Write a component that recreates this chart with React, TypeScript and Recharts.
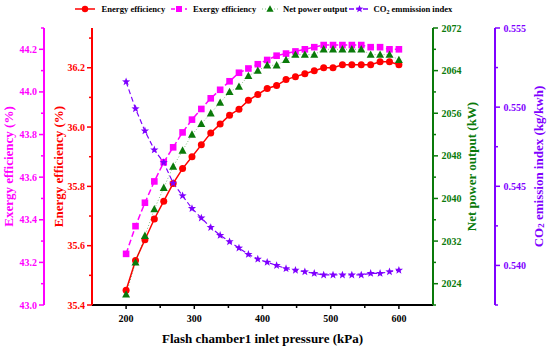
import React from 'react';
import { LineChart, Line, XAxis, YAxis, Legend } from 'recharts';

const FONT = "'Times New Roman', 'Liberation Serif', serif";

const pressure = [200, 213.8, 227.6, 241.4, 255.2, 269.0, 282.8, 296.6, 310.3, 324.1, 337.9, 351.7, 365.5, 379.3, 393.1, 406.9, 420.7, 434.5, 448.3, 462.1, 475.9, 489.7, 503.4, 517.2, 531.0, 544.8, 558.6, 572.4, 586.2, 600];
const energyEff = [35.45, 35.55, 35.62, 35.69, 35.75, 35.81, 35.86, 35.90, 35.94, 35.98, 36.01, 36.04, 36.06, 36.09, 36.11, 36.13, 36.14, 36.16, 36.17, 36.18, 36.19, 36.20, 36.20, 36.21, 36.21, 36.21, 36.21, 36.22, 36.22, 36.21];
const exergyEff = [43.24, 43.37, 43.48, 43.58, 43.67, 43.74, 43.81, 43.87, 43.92, 43.97, 44.01, 44.05, 44.09, 44.11, 44.13, 44.15, 44.17, 44.18, 44.19, 44.20, 44.21, 44.22, 44.22, 44.22, 44.22, 44.22, 44.21, 44.21, 44.20, 44.20];
const netPower = [2022, 2028, 2033, 2038, 2042, 2046, 2049, 2052, 2054, 2056, 2058, 2060, 2061, 2063, 2064, 2065, 2065, 2066, 2067, 2067, 2067, 2068, 2068, 2068, 2068, 2068, 2067, 2067, 2067, 2066];
const co2Index = [0.5516, 0.5499, 0.5485, 0.5473, 0.5465, 0.5452, 0.5444, 0.5436, 0.5430, 0.5424, 0.5419, 0.5415, 0.5411, 0.5407, 0.5404, 0.5402, 0.5400, 0.5398, 0.5397, 0.5396, 0.5395, 0.5394, 0.5394, 0.5394, 0.5394, 0.5394, 0.5395, 0.5395, 0.5396, 0.5397];

const xTicks = [200, 250, 300, 350, 400, 450, 500, 550, 600];
const xMajor = [200, 300, 400, 500, 600];
const energyTicks = [35.4, 35.5, 35.6, 35.7, 35.8, 35.9, 36.0, 36.1, 36.2, 36.3];
const energyMajor = [35.4, 35.6, 35.8, 36.0, 36.2];
const exergyTicks = [43.0, 43.1, 43.2, 43.3, 43.4, 43.5, 43.6, 43.7, 43.8, 43.9, 44.0, 44.1, 44.2, 44.3];
const exergyMajor = [43.0, 43.2, 43.4, 43.6, 43.8, 44.0, 44.2];
const powerTicks = [2020, 2024, 2028, 2032, 2036, 2040, 2044, 2048, 2052, 2056, 2060, 2064, 2068, 2072];
const powerMajor = [2024, 2032, 2040, 2048, 2056, 2064, 2072];
const co2Ticks = [0.5375, 0.54, 0.5425, 0.545, 0.5475, 0.55, 0.5525, 0.555];
const co2Major = [0.54, 0.545, 0.55, 0.555];

const RED = '#FF0000';
const MAGENTA = '#FF00FF';
const GREEN = '#0A7A0A';
const PURPLE = '#7F00FF';

const data = pressure.map((p, i) => ({
  p,
  energy: energyEff[i],
  exergy: exergyEff[i],
  power: netPower[i],
  co2: co2Index[i],
}));

const isIn = (arr: number[], v: number) => arr.some((m) => Math.abs(m - v) < 1e-9);

function makeTick(color: string, side: 'left' | 'right' | 'bottom', majors: number[], fmt: (v: number) => string) {
  return (props: any) => {
    const { x, y, payload } = props;
    const v = payload.value;
    const major = isIn(majors, v);
    const len = major ? 5 : 3;
    if (side === 'left') {
      return (
        <g>
          <line x1={x} y1={y} x2={x - len} y2={y} stroke={color} strokeWidth={1.5} />
          {major && (
            <text x={x - 7} y={y} textAnchor="end" dominantBaseline="central" fill={color} fontFamily={FONT} fontWeight="bold" fontSize={10}>
              {fmt(v)}
            </text>
          )}
        </g>
      );
    }
    if (side === 'right') {
      return (
        <g>
          <line x1={x} y1={y} x2={x + len} y2={y} stroke={color} strokeWidth={1.5} />
          {major && (
            <text x={x + 8.5} y={y} textAnchor="start" dominantBaseline="central" fill={color} fontFamily={FONT} fontWeight="bold" fontSize={10}>
              {fmt(v)}
            </text>
          )}
        </g>
      );
    }
    return (
      <g>
        <line x1={x} y1={y} x2={x} y2={y + (major ? 4 : 3)} stroke="#000" strokeWidth={1.5} />
        {major && (
          <text x={x} y={y + 13.5} textAnchor="middle" dominantBaseline="central" fill="#000" fontFamily={FONT} fontWeight="bold" fontSize={10}>
            {fmt(v)}
          </text>
        )}
      </g>
    );
  };
}

function yTitle(text: React.ReactNode, color: string, dx: number) {
  return (props: any) => {
    const vb = props.viewBox;
    const cx = vb.x + dx;
    const cy = vb.y + vb.height / 2;
    return (
      <text
        x={cx}
        y={cy}
        transform={`rotate(-90, ${cx}, ${cy})`}
        textAnchor="middle"
        dominantBaseline="central"
        fill={color}
        fontFamily={FONT}
        fontWeight="bold"
        fontSize={13}
      >
        {text}
      </text>
    );
  };
}

const xTitle = (props: any) => {
  const vb = props.viewBox;
  return (
    <text x={vb.x + vb.width / 2} y={vb.y + 33} textAnchor="middle" dominantBaseline="central" fill="#000" fontFamily={FONT} fontWeight="bold" fontSize={13}>
      Flash chamber1 inlet pressure (kPa)
    </text>
  );
};

const CircleDot = (props: any) => {
  const { cx, cy, index } = props;
  if (cx == null || cy == null) return <g key={index} />;
  return <circle key={index} cx={cx} cy={cy} r={3.5} fill={RED} />;
};
const SquareDot = (props: any) => {
  const { cx, cy, index } = props;
  if (cx == null || cy == null) return <g key={index} />;
  return <rect key={index} x={cx - 3.3} y={cy - 3.3} width={6.6} height={6.6} fill={MAGENTA} />;
};
const triPath = (cx: number, cy: number, s: number) =>
  `M${cx},${cy - s} L${cx + s * 0.95},${cy + s * 0.75} L${cx - s * 0.95},${cy + s * 0.75} Z`;
const TriDot = (props: any) => {
  const { cx, cy, index } = props;
  if (cx == null || cy == null) return <g key={index} />;
  return <path key={index} d={triPath(cx, cy, 4.2)} fill={GREEN} />;
};
const starPath = (cx: number, cy: number, ro: number, ri: number) => {
  let d = '';
  for (let k = 0; k < 10; k++) {
    const r = k % 2 === 0 ? ro : ri;
    const a = -Math.PI / 2 + (k * Math.PI) / 5;
    d += `${k === 0 ? 'M' : 'L'}${cx + r * Math.cos(a)},${cy + r * Math.sin(a)} `;
  }
  return d + 'Z';
};
const StarDot = (props: any) => {
  const { cx, cy, index } = props;
  if (cx == null || cy == null) return <g key={index} />;
  return <path key={index} d={starPath(cx, cy, 4.3, 1.8)} fill={PURPLE} />;
};

const legendTextProps = {
  fontFamily: FONT,
  fontWeight: 'bold' as const,
  fontSize: 8.6,
  fill: '#000',
  dominantBaseline: 'central' as const,
};

const LegendContent = () => (
  <svg width={550} height={20} style={{ display: 'block' }}>
    <line x1={75} y1={9} x2={95} y2={9} stroke={RED} strokeWidth={1.5} />
    <circle cx={85} cy={9} r={3.2} fill={RED} />
    <text x={101.5} y={9} {...legendTextProps}>Energy efficiency</text>

    <line x1={171} y1={9} x2={187} y2={9} stroke={MAGENTA} strokeWidth={1.5} strokeDasharray="4 3" />
    <rect x={176} y={6} width={6} height={6} fill={MAGENTA} />
    <text x={193} y={9} {...legendTextProps}>Exergy efficiency</text>

    <line x1={262} y1={9} x2={278} y2={9} stroke={GREEN} strokeWidth={1} strokeDasharray="1 2" strokeOpacity={0.5} />
    <path d={triPath(270, 9, 3.8)} fill={GREEN} />
    <text x={283} y={9} {...legendTextProps}>Net power output</text>

    <line x1={349} y1={9} x2={370} y2={9} stroke={PURPLE} strokeWidth={1.5} strokeDasharray="5 2" />
    <path d={starPath(359.5, 9, 4, 1.7)} fill={PURPLE} />
    <text x={373.5} y={9} {...legendTextProps}>
      CO<tspan dy={2.5} fontSize={6}>2</tspan>
      <tspan dy={-2.5}> emmission index</tspan>
    </text>
  </svg>
);

export default function App() {
  return (
    <div style={{ position: 'absolute', left: 0, top: 0, width: 550, height: 348, background: '#fff' }}>
      <LineChart width={550} height={348} data={data} margin={{ top: 28, right: 0, bottom: 0, left: 0 }}>
        <Legend
          content={() => <LegendContent />}
          verticalAlign="middle"
          align="center"
          layout="horizontal"
          wrapperStyle={{ top: 0, left: 0, width: 550, height: 20 }}
        />
        <XAxis
          dataKey="p"
          type="number"
          domain={[150, 650]}
          ticks={xTicks}
          interval={0}
          height={43}
          tickSize={0}
          tickMargin={0}
          tickLine={false}
          axisLine={{ stroke: '#000', strokeWidth: 2 }}
          tick={makeTick('#000', 'bottom', xMajor, (v) => String(v))}
          label={xTitle}
        />
        <YAxis
          yAxisId="y1"
          orientation="left"
          width={48}
          domain={[35.4, 36.334]}
          ticks={energyTicks}
          interval={0}
          tickSize={0}
          tickMargin={0}
          tickLine={false}
          axisLine={{ stroke: RED, strokeWidth: 2 }}
          tick={makeTick(RED, 'left', energyMajor, (v) => v.toFixed(1))}
          label={yTitle('Energy efficiency (%)', RED, 14)}
        />
        <YAxis
          yAxisId="y2"
          orientation="left"
          width={44}
          domain={[43.0, 44.3]}
          ticks={exergyTicks}
          interval={0}
          tickSize={0}
          tickMargin={0}
          tickLine={false}
          axisLine={{ stroke: MAGENTA, strokeWidth: 2 }}
          tick={makeTick(MAGENTA, 'left', exergyMajor, (v) => v.toFixed(1))}
          label={yTitle('Exergy efficiency (%)', MAGENTA, 8)}
        />
        <YAxis
          yAxisId="y3"
          orientation="right"
          width={62}
          domain={[2020, 2072]}
          ticks={powerTicks}
          interval={0}
          tickSize={0}
          tickMargin={0}
          tickLine={false}
          axisLine={{ stroke: GREEN, strokeWidth: 2 }}
          tick={makeTick(GREEN, 'right', powerMajor, (v) => String(v))}
          label={yTitle('Net power output (kW)', GREEN, 38)}
        />
        <YAxis
          yAxisId="y4"
          orientation="right"
          width={55}
          domain={[0.5375, 0.555]}
          ticks={co2Ticks}
          interval={0}
          tickSize={0}
          tickMargin={0}
          tickLine={false}
          axisLine={{ stroke: PURPLE, strokeWidth: 2 }}
          tick={makeTick(PURPLE, 'right', co2Major, (v) => v.toFixed(3))}
          label={yTitle(
            <>
              CO<tspan dy={3} fontSize={9}>2</tspan>
              <tspan dy={-3}> emission index (kg/kwh)</tspan>
            </>,
            PURPLE,
            43
          )}
        />
        <Line yAxisId="y1" dataKey="energy" stroke={RED} strokeWidth={1.5} dot={CircleDot} activeDot={false} isAnimationActive={false} />
        <Line yAxisId="y2" dataKey="exergy" stroke={MAGENTA} strokeWidth={1.5} strokeDasharray="6 3" dot={SquareDot} activeDot={false} isAnimationActive={false} />
        <Line yAxisId="y3" dataKey="power" stroke={GREEN} strokeWidth={1} strokeOpacity={0.5} strokeDasharray="1 2" dot={TriDot} activeDot={false} isAnimationActive={false} />
        <Line yAxisId="y4" dataKey="co2" stroke={PURPLE} strokeWidth={1.2} strokeDasharray="5 3" dot={StarDot} activeDot={false} isAnimationActive={false} />
      </LineChart>
    </div>
  );
}
